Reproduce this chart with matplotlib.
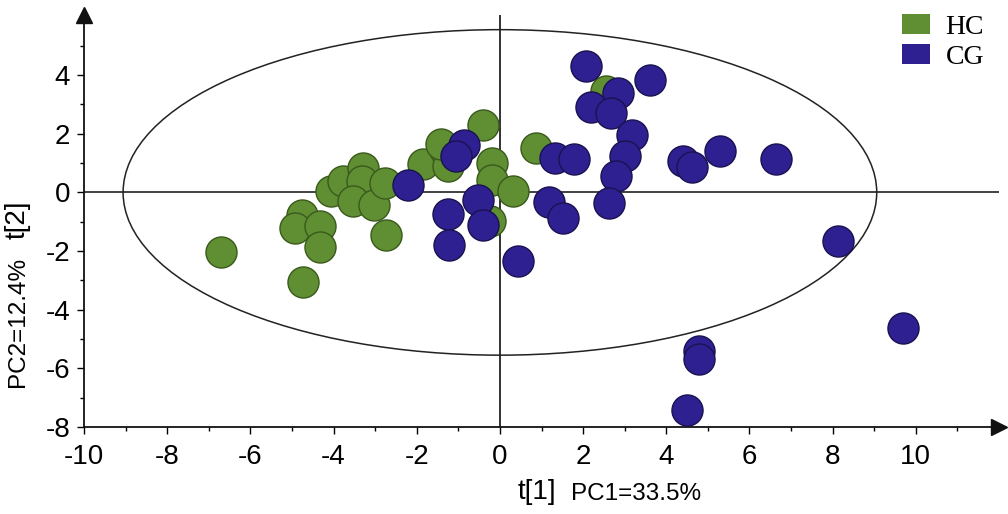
"""PCA score plot, HC vs CG, with Hotelling ellipse."""

import numpy as np
import matplotlib
matplotlib.use("Agg")
import matplotlib.pyplot as plt
from matplotlib.patches import Ellipse, Patch

plt.rcParams.update({
    "font.family": ["Liberation Sans", "DejaVu Sans"],
    "font.size": 18,
    "axes.unicode_minus": False,
})

# ── Scores ─────────────────────────────────────────────────────────────────
hc_t1 = [-6.71, -4.73, -4.77, -4.93, -4.33, -4.33, -4.05, -3.77, -3.29, -3.32,
         -3.53, -3.02, -2.76, -2.74, -1.86, -1.32, -1.24, -0.40, -0.19, -0.20,
         0.32, 0.87, -0.24, -1.42, 2.56]
hc_t2 = [-2.04, -3.06, -0.76, -1.22, -1.13, -1.87, 0.06, 0.40, 0.83, 0.38,
         -0.31, -0.44, 0.32, -1.44, 0.97, 1.46, 0.89, 2.29, 1.00, 0.43,
         0.06, 1.51, -0.99, 1.64, 3.45]

cg_t1 = [2.08, 3.62, 2.84, 2.18, 2.68, 3.18, 3.00, 2.79, 2.63, 1.32,
         1.78, 1.19, 1.51, 0.44, 4.41, 4.63, 5.30, 6.63, 8.12, 9.68,
         4.79, 4.78, 4.51, -2.20, -0.86, -1.06, -1.24, -1.22, -0.52, -0.40]
cg_t2 = [4.30, 3.82, 3.39, 2.90, 2.71, 1.95, 1.23, 0.55, -0.36, 1.19,
         1.15, -0.34, -0.88, -2.33, 1.08, 0.85, 1.40, 1.15, -1.64, -4.61,
         -5.40, -5.69, -7.42, 0.24, 1.60, 1.23, -0.73, -1.81, -0.25, -1.10]

ellipse_a, ellipse_b = 9.06, 5.55   # Hotelling T2 semi-axes
groups = ["HC", "CG"]
face = {"HC": "#5f8e33", "CG": "#2e2090"}
edge = {"HC": "#3a5a1c", "CG": "#1a1250"}

# ── Plot ───────────────────────────────────────────────────────────────────
fig = plt.figure(figsize=(10.08, 5.14), dpi=100)
ax = fig.add_axes([84 / 1008, 1 - 427 / 514, (999 - 84) / 1008, (427 - 15) / 514])
ax.set_xlim(-10, 12)
ax.set_ylim(-8, 6.05)

ax.axhline(0, color="#333333", lw=1.3, zorder=1)
ax.axvline(0, color="#222222", lw=1.3, zorder=1)
ax.add_patch(Ellipse((0, 0), 2 * ellipse_a, 2 * ellipse_b, fill=False,
                     edgecolor="#222222", lw=1.1, zorder=1))

ax.scatter(hc_t1, hc_t2, s=500, c=face["HC"], edgecolors=edge["HC"],
           linewidths=1.0, zorder=3)
ax.scatter(cg_t1, cg_t2, s=500, c=face["CG"], edgecolors=edge["CG"],
           linewidths=1.0, zorder=4)

# spines with arrow heads
for side in ("top", "right"):
    ax.spines[side].set_visible(False)
for side in ("left", "bottom"):
    ax.spines[side].set_linewidth(1.3)
    ax.spines[side].set_color("#111111")
ax.plot(1, 0, ">", color="#111111", ms=11, transform=ax.transAxes, clip_on=False)
ax.plot(0, 1, "^", color="#111111", ms=11, transform=ax.transAxes, clip_on=False)

ax.set_xticks(np.arange(-10, 11, 2))
ax.set_xticks(np.arange(-9, 12, 2), minor=True)
ax.set_yticks(np.arange(-8, 5, 2))
ax.set_yticks(np.arange(-7, 6, 2), minor=True)
ax.tick_params(which="major", length=5, width=1, labelsize=20)
ax.tick_params(axis="x", which="major", pad=7)
ax.tick_params(axis="y", which="major", pad=5)
ax.tick_params(which="minor", length=3, width=1)

# axis labels: large t[n] + smaller PC percentage
fig.text(518 / 1008, 1 - 492 / 514, "t[1]", fontsize=20, ha="left", va="center")
fig.text(571 / 1008, 1 - 494 / 514, "PC1=33.5%", fontsize=17.5, ha="left", va="center")
fig.text(18 / 1008, 1 - 220 / 514, "t[2]", fontsize=20, rotation=90,
         ha="center", va="center")
fig.text(18 / 1008, 1 - 322 / 514, "PC2=12.4%", fontsize=17.5, rotation=90,
         ha="center", va="center")

handles = [Patch(facecolor=face[g], edgecolor="none") for g in groups]
leg = fig.legend(handles, groups, loc="upper right", bbox_to_anchor=(0.99, 1.0),
                 frameon=False, handlelength=1.0, handleheight=0.75,
                 handletextpad=0.55, labelspacing=0.15, borderaxespad=0.1,
                 prop={"family": ["Liberation Serif", "DejaVu Serif"], "size": 20})

fig.savefig("out.png", dpi=100)
plt.close(fig)
